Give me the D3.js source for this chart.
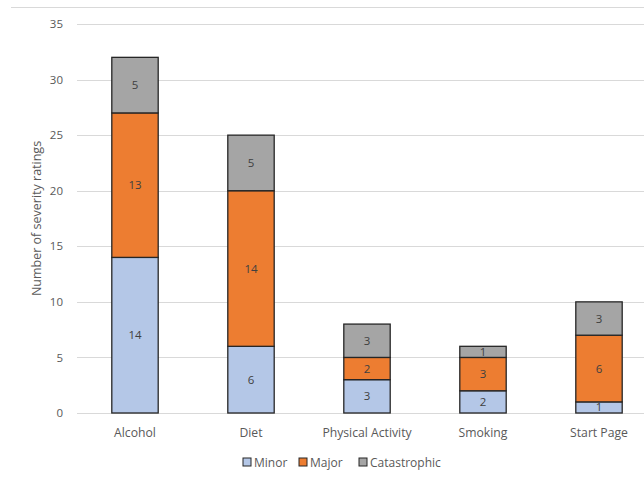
<!DOCTYPE html>
<html><head><meta charset="utf-8">
<script src="https://cdn.jsdelivr.net/npm/d3@7"></script>
<style>body{margin:0;background:#fff}svg{display:block}</style>
</head><body>
<svg id="c" width="644" height="483"></svg>
<script>
const categories = ["Alcohol","Diet","Physical Activity","Smoking","Start Page"];
const seriesNames = ["Minor","Major","Catastrophic"];
const minor = [14,6,3,2,1];
const major = [13,14,2,3,6];
const catastrophic = [5,5,3,1,3];
const yTicks = [0,5,10,15,20,25,30,35];
const colors = ["#b4c7e7","#ed7d31","#a5a5a5"];

const font = "'Open Sans',sans-serif";
const svg = d3.select("#c");
const m = {l:77, r:-13, t:24, b:70};
const W = 644, H = 483;
const x = d3.scaleBand().domain(categories).range([m.l, W - m.r]).paddingInner(0.6).paddingOuter(0.3);
const y = d3.scaleLinear().domain([0,35]).range([H - m.b, m.t]);

// chart border top
svg.append("line").attr("x1",11).attr("x2",644).attr("y1",7.5).attr("y2",7.5).attr("stroke","#d9d9d9").attr("stroke-width",1);

// gridlines
svg.append("g").selectAll("line").data(yTicks).join("line")
  .attr("x1", m.l).attr("x2", W)
  .attr("y1", d=>Math.round(y(d))+0.5).attr("y2", d=>Math.round(y(d))+0.5)
  .attr("stroke","#d9d9d9").attr("stroke-width",1);

// y tick labels
const yAxis = d3.axisLeft(y).tickValues(yTicks).tickSize(0).tickPadding(14);
const ga = svg.append("g").attr("transform",`translate(${m.l},0)`).call(yAxis);
ga.select(".domain").remove();
ga.selectAll("text").attr("font-family",font).attr("font-size",11.5).attr("fill","#595959");

const rows = categories.map((c,i)=>({cat:c, Minor:minor[i], Major:major[i], Catastrophic:catastrophic[i]}));
const stack = d3.stack().keys(seriesNames)(rows);

const g = svg.append("g");
stack.forEach((s,si)=>{
  const gs = g.append("g");
  gs.selectAll("rect").data(s).join("rect")
    .attr("x", d=>x(d.data.cat))
    .attr("y", d=>y(d[1]))
    .attr("width", x.bandwidth())
    .attr("height", d=>y(d[0])-y(d[1]))
    .attr("fill", colors[si])
    .attr("stroke","#262626").attr("stroke-width",1.3);
});
stack.forEach((s,si)=>{
  g.append("g").selectAll("text").data(s).join("text")
    .attr("x", d=>x(d.data.cat)+x.bandwidth()/2)
    .attr("y", d=>(y(d[0])+y(d[1]))/2)
    .attr("dy","0.35em")
    .attr("text-anchor","middle")
    .attr("font-family",font).attr("font-size",11.5).attr("fill","#404040")
    .text(d=>d[1]-d[0]);
});

// x axis labels
const xAxis = d3.axisBottom(x).tickSize(0).tickPadding(15);
const gx = svg.append("g").attr("transform",`translate(0,${H-m.b})`).call(xAxis);
gx.select(".domain").remove();
gx.selectAll("text").attr("font-family",font).attr("font-size",12.2).attr("fill","#595959");

// y label
svg.append("text").attr("transform",`translate(41,${(y(0)+y(35))/2}) rotate(-90)`)
  .attr("text-anchor","middle").attr("font-family",font).attr("font-size",12.5).attr("fill","#595959")
  .text("Number of severity ratings");

// legend
const legX = [243, 299, 359];
const lg = svg.append("g");
seriesNames.forEach((n,i)=>{
  lg.append("rect").attr("x",legX[i]).attr("y",458).attr("width",8).attr("height",8)
    .attr("fill",colors[i]).attr("stroke","#262626").attr("stroke-width",1);
  lg.append("text").attr("x",legX[i]+11).attr("y",462.5).attr("dy","0.35em")
    .attr("font-family",font).attr("font-size",12).attr("fill","#595959").text(n);
});
</script>
</body></html>
